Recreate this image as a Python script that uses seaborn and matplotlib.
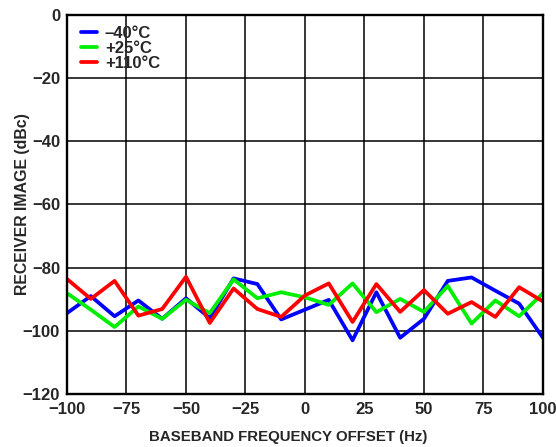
import numpy as np
import pandas as pd
import matplotlib
matplotlib.use("Agg")
import matplotlib.pyplot as plt
import seaborn as sns

# baseband offset (Hz)
offset = [-100, -90, -80, -70, -60, -50, -40, -30, -20, -10, 0,
          10, 20, 30, 40, 50, 60, 70, 80, 90, 100]

# receiver image (dBc) per temperature
img_m40 = [-94.4, -89.0, -95.4, -90.4, -96.2, -89.7, -96.0, -83.4, -85.2, -96.4, -93.3,
           -90.2, -103.0, -87.8, -102.2, -96.2, -84.2, -83.1, -87.3, -91.4, -102.2]
img_p25 = [-88.1, -93.3, -98.8, -92.3, -96.2, -90.2, -94.4, -83.7, -89.7, -87.8, -89.4,
           -91.8, -85.0, -94.1, -89.9, -94.0, -85.8, -97.7, -90.4, -95.4, -88.1]
img_p110 = [-83.6, -89.9, -84.2, -95.2, -93.1, -82.9, -97.5, -86.6, -93.1, -95.6, -88.8,
            -85.0, -97.2, -85.2, -94.0, -87.1, -94.6, -90.9, -95.6, -86.2, -90.7]

labels = ["\u201340\u00b0C", "+25\u00b0C", "+110\u00b0C"]
colors = ["#0000ff", "#00ee00", "#ff0000"]

df = pd.DataFrame({
    "offset": offset * 3,
    "image": img_m40 + img_p25 + img_p110,
    "temp": [labels[0]] * len(offset) + [labels[1]] * len(offset) + [labels[2]] * len(offset),
})

sns.set_style("white")
plt.rcParams['font.family'] = ['Liberation Sans', 'DejaVu Sans']
plt.rcParams['font.weight'] = 'bold'

fig = plt.figure(figsize=(5.56, 4.47), dpi=100)
ax = fig.add_axes([0.1205, 0.1186, 0.856, 0.848])

sns.lineplot(data=df, x="offset", y="image", hue="temp", palette=colors,
             linewidth=2.7, ax=ax, legend=True)

ax.set_xlim(-100, 100)
ax.set_ylim(-120, 0)
ax.set_xticks(np.arange(-100, 101, 25))
ax.set_yticks(np.arange(-120, 1, 20))
ax.grid(True, color="black", linewidth=1.1)
ax.set_axisbelow(True)
for s in ax.spines.values():
    s.set_color("black")
    s.set_linewidth(1.7)
ax.tick_params(length=0, labelsize=12)
ax.tick_params(axis="x", pad=6)
ax.tick_params(axis="y", pad=5)
for t in ax.get_xticklabels() + ax.get_yticklabels():
    t.set_fontweight("bold")

ax.set_xlabel("BASEBAND FREQUENCY OFFSET (Hz)", fontsize=10.8, fontweight="bold", labelpad=9)
ax.xaxis.label.set_x(0.464)
ax.set_ylabel("RECEIVER IMAGE (dBc)", fontsize=11.4, fontweight="bold")
ax.yaxis.set_label_coords(-0.077, 0.5)

leg = ax.legend(loc="upper left", bbox_to_anchor=(0.029, 0.972), frameon=False,
                fontsize=12, handlelength=1.0, handletextpad=0.45, labelspacing=0.0,
                borderaxespad=0, borderpad=0)
for t in leg.get_texts():
    t.set_fontweight("bold")

fig.savefig("out.png", dpi=100)
